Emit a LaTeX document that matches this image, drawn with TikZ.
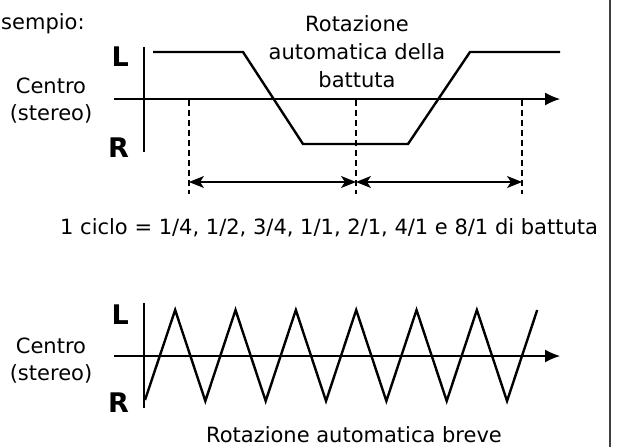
\documentclass[tikz,border=0pt]{standalone}
\usepackage{fontspec}
\setmainfont{DejaVu Sans}
\usetikzlibrary{arrows.meta}
\begin{document}
\begin{tikzpicture}[x=1pt,y=-1pt,
  txt/.style={inner sep=0pt,font=\fontsize{21}{28}\selectfont},
  lr/.style={inner sep=0pt,font=\fontsize{27}{28}\selectfont\bfseries,anchor=base east},
  axis/.style={line width=1.2pt},
  haxis/.style={line width=1.2pt,-{Latex[length=15pt,width=13pt]}},
  wave/.style={line width=2.4pt,line join=miter},
  dashline/.style={line width=1.2pt,dash pattern=on 6pt off 4pt},
  dim/.style={line width=1.2pt,{Stealth[length=15pt,width=12pt,inset=4pt]}-{Stealth[length=15pt,width=12pt,inset=4pt]}}]
\useasboundingbox (0,0) rectangle (617,447);
\fill[white] (0,0) rectangle (617,447);
% right border
\draw[line width=1.3pt,black!75] (610,0) -- (610,447);
% texts
\node[txt,anchor=base west] (ex) at (1,29) {sempio:};
\node[txt,anchor=north,align=center] (title) at (357,15) {Rotazione\\automatica della\\battuta};
\node[txt,anchor=base] (c1) at (51,93) {Centro};
\node[txt,anchor=base] (s1) at (51,120) {(stereo)};
\node[lr] (L1) at (129,66) {L};
\node[lr] (R1) at (129,157) {R};
\node[txt,anchor=base west] (ciclo) at (60,234) {1 ciclo = 1/4, 1/2, 3/4, 1/1, 2/1, 4/1 e 8/1 di battuta};
\node[txt,anchor=base] (c2) at (51,353) {Centro};
\node[txt,anchor=base] (s2) at (51,380) {(stereo)};
\node[lr] (L2) at (129,324) {L};
\node[lr] (R2) at (129,412) {R};
\node[txt,anchor=base] (brv) at (354,442) {Rotazione automatica breve};
% top diagram axes
\coordinate (v1t) at (144,47); \coordinate (v1b) at (144,152);
\coordinate (h1a) at (114,99); \coordinate (h1b) at (560,99);
\draw[axis] (v1t) -- (v1b);
\draw[haxis] (h1a) -- (h1b);
% trapezoid wave
\coordinate (t0) at (153,52); \coordinate (t1) at (243,52);
\coordinate (t2) at (303,144); \coordinate (t3) at (408,144);
\coordinate (t4) at (470,52); \coordinate (t5) at (560,52);
\draw[wave] (t0) -- (t1) -- (t2) -- (t3) -- (t4) -- (t5);
% dashed markers
\coordinate (d1a) at (189,100); \coordinate (d1b) at (189,194);
\coordinate (d2a) at (356,100); \coordinate (d2b) at (356,194);
\coordinate (d3a) at (522,100); \coordinate (d3b) at (522,194);
\draw[dashline] (d1a) -- (d1b);
\draw[dashline] (d2a) -- (d2b);
\draw[dashline] (d3a) -- (d3b);
\coordinate (m1) at (189,182); \coordinate (m2) at (356,182); \coordinate (m3) at (522,182);
\draw[dim] (m1) -- (m2);
\draw[dim] (m2) -- (m3);
% bottom diagram axes
\coordinate (v2t) at (144,303); \coordinate (v2b) at (144,408);
\coordinate (h2a) at (114,356); \coordinate (h2b) at (560,356);
\draw[axis] (v2t) -- (v2b);
\draw[haxis] (h2a) -- (h2b);
% triangle wave
\draw[wave] (145,400)
  \foreach \k in {1,...,13} {
    -- ({145+30.17*\k}, {mod(\k,2)==1 ? 310 : 401})
  };
\end{tikzpicture}
\end{document}
